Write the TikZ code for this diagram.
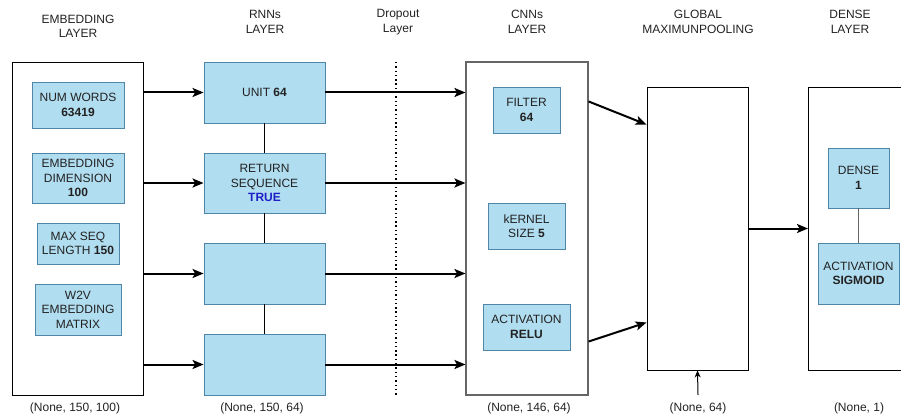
\documentclass[tikz,border=0pt]{standalone}
\usepackage{fontspec}
\setmainfont{Liberation Sans}
\usetikzlibrary{arrows.meta,calc}
\definecolor{boxfill}{HTML}{B1DDF0}
\definecolor{boxline}{HTML}{4F86A8}
\definecolor{txt}{HTML}{222222}
\definecolor{truecol}{HTML}{1F1FC8}
\definecolor{cnnframe}{HTML}{666666}

\begin{document}
\begin{tikzpicture}[x=1pt,y=-1pt,
  font=\fontsize{12}{14.5}\selectfont, text=txt,
  param/.style={draw=boxline, fill=boxfill, line width=0.9pt, align=center, inner sep=0pt},
  frame/.style={draw=black, line width=0.9pt, inner sep=0pt},
  flow/.style={-{Stealth[length=11pt,width=9pt,inset=2.5pt]}, line width=2pt},
  link/.style={line width=1pt},
  heading/.style={align=center, inner sep=0pt},
  shape label/.style={inner sep=0pt},
]
\useasboundingbox (0,0) rectangle (901,417);
\clip (0,0) rectangle (901,417);

% column headings
\node[heading] (h1) at (78,26.5) {EMBEDDING\\LAYER};
\node[heading] (h2) at (265,22) {RNNs\\LAYER};
\node[heading] (h3) at (398,22) {Dropout\\Layer};
\node[heading] (h4) at (527,22) {CNNs\\LAYER};
\node[heading] (h5) at (698,22) {GLOBAL\\MAXIMUNPOOLING};
\node[heading] (h6) at (850,22) {DENSE\\LAYER};

% embedding layer
\node[frame, minimum width=131, minimum height=333] (emb) at (77.5,228.5) {};
\node[param, minimum width=92, minimum height=46] (numw) at (78,105) {NUM WORDS\\\textbf{63419}};
\node[param, minimum width=92, minimum height=50] (edim) at (78,178) {EMBEDDING\\DIMENSION\\\textbf{100}};
\node[param, minimum width=82, minimum height=41] (mseq) at (78,243.5) {MAX SEQ\\LENGTH \textbf{150}};
\node[param, minimum width=86, minimum height=51] (w2v) at (78,309.5) {W2V\\EMBEDDING\\MATRIX};

% recurrent layer
\node[param, minimum width=121, minimum height=61] (r1) at (264.5,92.5) {UNIT \textbf{64}};
\node[param, minimum width=121, minimum height=60] (r2) at (264.5,183) {RETURN\\SEQUENCE\\\textcolor{truecol}{\textbf{TRUE}}};
\node[param, minimum width=121, minimum height=61] (r3) at (264.5,273.5) {};
\node[param, minimum width=121, minimum height=61] (r4) at (264.5,364.5) {};
\draw[link] (r1.south) -- (r2.north);
\draw[link] (r2.south) -- (r3.north);
\draw[link] (r3.south) -- (r4.north);

% dropout
\coordinate (dtop) at (396,62);
\coordinate (dbot) at (396,395);
\draw[line width=1.5pt, dash pattern=on 1.4pt off 2.9pt] (dtop) -- (dbot);

% convolutional layer
\node[frame, draw=cnnframe, line width=1.1pt, minimum width=122, minimum height=333] (cnn) at (527,228.5) {};
\node[param, minimum width=67, minimum height=46] (filt) at (526.5,110) {FILTER\\\textbf{64}};
\node[param, minimum width=77, minimum height=46] (kern) at (526.5,226) {kERNEL\\SIZE \textbf{5}};
\node[param, minimum width=87, minimum height=46] (relu) at (526.5,327) {ACTIVATION\\\textbf{RELU}};

% global max pooling
\node[frame, minimum width=101, minimum height=283] (pool) at (697.5,228.5) {};

% dense layer
\node[frame, minimum width=200, minimum height=283, anchor=west] (dense) at (808,228.5) {};
\node[param, minimum width=61, minimum height=60] (d1) at (858.5,178) {DENSE\\\textbf{1}};
\node[param, minimum width=81, minimum height=61] (sig) at (858.5,273.5) {ACTIVATION\\\textbf{SIGMOID}};
\draw[link, draw=cnnframe] (d1.south) -- (sig.north);

% data flow
\foreach \r in {r1,r2,r3,r4}{
  \draw[flow] (emb.east |- \r.west) -- (\r.west);
  \draw[flow] (\r.east) -- (cnn.west |- \r.east);
}
\draw[flow] ($(cnn.north east)+(0,40)$) -- ($(pool.north west)+(0,38)$);
\draw[flow] ($(cnn.south east)+(0,-54)$) -- ($(pool.south west)+(0,-48)$);
\draw[flow] (pool.east) -- (pool.east -| dense.west);

% output shapes
\node[shape label] (s1) at (75,408) {(None, 150, 100)};
\node[shape label] (s2) at (262,408) {(None, 150, 64)};
\node[shape label] (s3) at (529,408) {(None, 146, 64)};
\node[shape label] (s4) at (698,408) {(None, 64)};
\node[shape label] (s5) at (859,408) {(None, 1)};
\coordinate (up) at (698,395);
\draw[-{Stealth[length=7pt,width=6pt]}, line width=1pt] (up) -- (pool.south);
\end{tikzpicture}
\end{document}
